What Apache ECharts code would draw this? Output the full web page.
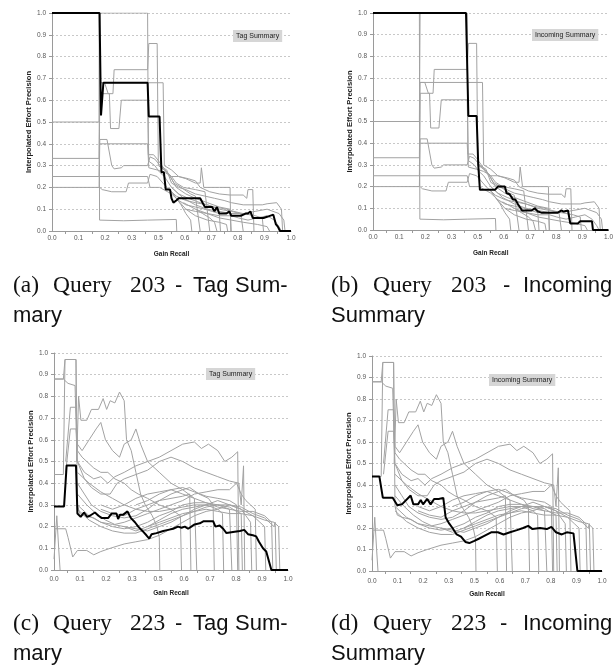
<!DOCTYPE html>
<html><head><meta charset="utf-8">
<script src="https://cdn.jsdelivr.net/npm/echarts@6/dist/echarts.min.js"></script>
<style>html,body{margin:0;padding:0;background:#fff}#c{width:616px;height:667px}</style>
</head><body><div id="c"></div>
<script>
// x tick labels as printed on every panel (0.4 is absent in the original)
const xTickLabels = ["0.0","0.1","0.2","0.3","0.5","0.6","0.7","0.8","0.9","1.0"];
const yTickStep = 0.1;
// x values below are the fraction of the axis length (0 = first tick, 1 = last tick)

// ---- Query 203 : grey per-user curves (shared by panels a and b)
const q203Gray = [
  [[0,1],[0.197,1],[0.199,0.05],[0.3,0.047],[0.4,0.05],[0.52,0.053],[0.522,0]],
  [[0,0.5],[0.197,0.5],[0.2,1],[0.4,1],[0.403,0.35],[0.425,0.35],[0.44,0.33],[0.46,0.3],[0.48,0.27],[0.5,0.24],[0.52,0.2],[0.56,0.17],[0.6,0.15],[0.65,0.13],[0.7,0.11],[0.745,0.1],[0.75,0]],
  [[0,0.333],[0.197,0.333],[0.2,0.68],[0.22,0.68],[0.235,0.63],[0.255,0.63],[0.26,0.74],[0.4,0.74],[0.405,0.86],[0.44,0.86],[0.445,0.3],[0.47,0.28],[0.5,0.25],[0.52,0.22],[0.55,0.2],[0.6,0.19],[0.64,0.18],[0.66,0]],
  [[0,0.25],[0.197,0.25],[0.2,0.63],[0.24,0.63],[0.245,0.47],[0.28,0.47],[0.29,0.6],[0.4,0.6],[0.405,0.32],[0.43,0.3],[0.45,0.27],[0.47,0.25],[0.5,0.2],[0.53,0.17],[0.57,0.15],[0.62,0.13],[0.68,0.11],[0.73,0.1],[0.76,0.09],[0.8,0.08],[0.85,0.07],[0.88,0.06],[0.885,0]],
  [[0,0.2],[0.197,0.2],[0.2,0.42],[0.23,0.42],[0.25,0.3],[0.26,0.285],[0.29,0.29],[0.3,0.3],[0.4,0.3],[0.41,0.34],[0.43,0.33],[0.46,0.29],[0.49,0.26],[0.51,0.22],[0.54,0.2],[0.58,0.17],[0.6,0.16],[0.62,0]],
  [[0.2,0.4],[0.4,0.4],[0.405,0.29],[0.44,0.28],[0.47,0.27],[0.5,0.25],[0.53,0.25],[0.56,0.24],[0.6,0.22],[0.62,0.22],[0.625,0.29],[0.635,0.2],[0.7,0.2],[0.745,0.2],[0.748,0]],
  [[0.2,0.2],[0.21,0.19],[0.25,0.18],[0.31,0.18],[0.32,0.22],[0.4,0.22],[0.41,0.26],[0.44,0.25],[0.48,0.2],[0.52,0.16],[0.56,0.14],[0.6,0.13],[0.65,0.12],[0.7,0.1],[0.75,0.09],[0.79,0.08],[0.8,0]],
  [[0.2,0.25],[0.4,0.25],[0.41,0.2],[0.45,0.2],[0.5,0.17],[0.53,0.14],[0.56,0.12],[0.6,0.11],[0.64,0.1],[0.67,0.09],[0.7,0.08],[0.705,0]],
  [[0.2,0.68],[0.465,0.68],[0.47,0.3],[0.5,0.28],[0.53,0.25],[0.57,0.24],[0.6,0.23],[0.62,0.2],[0.66,0.18],[0.7,0.17],[0.745,0.165],[0.8,0.165],[0.815,0.15],[0.82,0.19],[0.84,0.19],[0.845,0]],
  [[0.45,0.3],[0.48,0.28],[0.5,0.22],[0.53,0.2],[0.56,0.19],[0.6,0.17],[0.64,0.16],[0.68,0.15],[0.72,0.14],[0.75,0.13],[0.8,0.12],[0.88,0.12],[0.9,0.125],[0.94,0.13],[0.96,0.1],[0.965,0]],
  [[0.5,0.2],[0.55,0.15],[0.6,0.12],[0.65,0.1],[0.7,0.09],[0.75,0.08],[0.8,0.08],[0.85,0.09],[0.9,0.1],[0.95,0.08],[0.97,0.05],[0.975,0]],
  [[0.52,0.15],[0.56,0.1],[0.6,0.09],[0.65,0.08],[0.7,0.07],[0.75,0.07],[0.78,0.06],[0.82,0.05],[0.86,0.06],[0.9,0.07],[0.93,0.05],[0.95,0.02],[0.96,0]],
  [[0.5,0.18],[0.54,0.12],[0.56,0.08],[0.58,0.05],[0.585,0]],
  [[0.55,0.13],[0.6,0.1],[0.63,0.08],[0.66,0.06],[0.68,0.04],[0.69,0]],
  [[0.56,0.1],[0.6,0.07],[0.65,0.05],[0.7,0.04],[0.73,0.03],[0.735,0]],
  [[0.6,0.1],[0.7,0.06],[0.8,0.04],[0.86,0.03],[0.9,0.02],[0.91,0]]
];
// ---- Query 203 : averaged curves (black)
const q203Tag = [[0,1],[0.199,1],[0.205,0.53],[0.215,0.68],[0.4,0.68],[0.405,0.525],[0.45,0.525],[0.458,0.27],[0.468,0.27],[0.476,0.19],[0.494,0.19],[0.5,0.15],[0.508,0.13],[0.52,0.14],[0.53,0.15],[0.62,0.15],[0.63,0.13],[0.64,0.11],[0.67,0.11],[0.675,0.1],[0.68,0.09],[0.69,0.11],[0.7,0.08],[0.73,0.08],[0.742,0.09],[0.75,0.07],[0.79,0.07],[0.81,0.08],[0.82,0.08],[0.83,0.09],[0.84,0.06],[0.885,0.06],[0.9,0.065],[0.926,0.075],[0.937,0.03],[0.945,0.02],[0.954,0],[1,0]];
const q203Incoming = [[0,1],[0.395,1],[0.405,0.525],[0.44,0.525],[0.447,0.3],[0.454,0.185],[0.518,0.185],[0.53,0.2],[0.56,0.2],[0.567,0.17],[0.58,0.165],[0.595,0.14],[0.605,0.14],[0.615,0.12],[0.633,0.09],[0.673,0.09],[0.687,0.1],[0.7,0.085],[0.715,0.08],[0.757,0.08],[0.785,0.08],[0.8,0.09],[0.81,0.085],[0.828,0.09],[0.838,0.03],[0.87,0.03],[0.88,0.04],[0.93,0.04],[0.934,0],[1,0]];

// ---- Query 223 : grey per-user curves (shared by panels c and d)
const q223Gray = [
  [[0,0.88],[0.04,0.88],[0.047,0.97],[0.094,0.97],[0.1,0.3],[0.11,0.26],[0.13,0.25],[0.17,0.24],[0.2,0.22],[0.25,0.21],[0.3,0.2],[0.35,0.19],[0.4,0.18],[0.45,0.2],[0.5,0.22],[0.55,0.25],[0.6,0.27],[0.65,0.29],[0.7,0.3],[0.75,0.3],[0.8,0.28],[0.85,0.25],[0.88,0.22],[0.9,0.2],[0.905,0]],
  [[0,0.44],[0.04,0.44],[0.047,0.97],[0.094,0.97],[0.097,0.5],[0.105,0.8],[0.115,0.69],[0.14,0.69],[0.16,0.74],[0.19,0.74],[0.21,0.79],[0.225,0.74],[0.24,0.78],[0.26,0.77],[0.28,0.82],[0.3,0.78],[0.31,0.6],[0.33,0.55],[0.35,0.45],[0.37,0.35],[0.39,0.3],[0.42,0.25],[0.44,0.2],[0.45,0.15],[0.452,0]],
  [[0,0.88],[0.04,0.88],[0.06,0.86],[0.09,0.85],[0.095,0.65],[0.1,0.55],[0.12,0.52],[0.14,0.5],[0.17,0.47],[0.2,0.45],[0.23,0.45],[0.26,0.42],[0.3,0.4],[0.33,0.37],[0.36,0.35],[0.4,0.33],[0.45,0.3],[0.5,0.28],[0.54,0.25],[0.545,0]],
  [[0.05,0.5],[0.07,0.75],[0.094,0.75],[0.1,0.58],[0.12,0.55],[0.15,0.6],[0.18,0.65],[0.2,0.68],[0.22,0.6],[0.25,0.55],[0.28,0.52],[0.3,0.58],[0.33,0.6],[0.35,0.65],[0.37,0.58],[0.4,0.5],[0.45,0.45],[0.5,0.4],[0.55,0.37],[0.6,0.33],[0.61,0]],
  [[0.05,0.45],[0.07,0.65],[0.094,0.65],[0.1,0.5],[0.13,0.45],[0.17,0.42],[0.2,0.43],[0.23,0.4],[0.26,0.43],[0.3,0.45],[0.35,0.48],[0.4,0.5],[0.45,0.52],[0.5,0.55],[0.55,0.58],[0.6,0.59],[0.63,0.56],[0.66,0.58],[0.7,0.55],[0.73,0.5],[0.76,0.52],[0.785,0.545],[0.79,0]],
  [[0.1,0.5],[0.13,0.42],[0.16,0.38],[0.2,0.35],[0.24,0.35],[0.27,0.4],[0.3,0.42],[0.35,0.44],[0.4,0.46],[0.45,0.5],[0.5,0.52],[0.55,0.5],[0.6,0.47],[0.65,0.45],[0.7,0.43],[0.75,0.41],[0.79,0.4],[0.8,0.3],[0.81,0.48],[0.815,0]],
  [[0.1,0.4],[0.13,0.35],[0.16,0.3],[0.2,0.27],[0.25,0.25],[0.3,0.24],[0.35,0.25],[0.4,0.28],[0.45,0.32],[0.5,0.35],[0.55,0.37],[0.58,0.38],[0.62,0.35],[0.66,0.33],[0.68,0.3],[0.685,0]],
  [[0.1,0.35],[0.14,0.3],[0.18,0.26],[0.22,0.23],[0.26,0.21],[0.3,0.22],[0.35,0.24],[0.4,0.26],[0.45,0.28],[0.5,0.3],[0.55,0.32],[0.6,0.35],[0.65,0.36],[0.7,0.37],[0.75,0.37],[0.78,0.4],[0.8,0.35],[0.82,0.32],[0.84,0.3],[0.86,0.28],[0.865,0]],
  [[0,0.05],[0.012,0.25],[0.02,0.1],[0.026,0]],
  [[0,0.19],[0.05,0.19],[0.06,0.15],[0.08,0.06],[0.1,0.09],[0.14,0.09],[0.17,0.07],[0.2,0.085],[0.24,0.1],[0.3,0.12],[0.35,0.13],[0.4,0.14],[0.45,0.16],[0.5,0.19],[0.55,0.22],[0.6,0.25],[0.65,0.27],[0.7,0.28],[0.75,0.3],[0.8,0.29],[0.85,0.26],[0.9,0.24],[0.94,0.2],[0.945,0.22],[0.95,0]],
  [[0.1,0.3],[0.15,0.25],[0.2,0.22],[0.25,0.2],[0.3,0.19],[0.35,0.2],[0.4,0.22],[0.45,0.25],[0.5,0.27],[0.55,0.3],[0.6,0.31],[0.65,0.31],[0.7,0.3],[0.75,0.28],[0.8,0.27],[0.85,0.27],[0.9,0.25],[0.93,0.22],[0.935,0]],
  [[0.1,0.28],[0.15,0.23],[0.2,0.2],[0.25,0.18],[0.3,0.17],[0.35,0.17],[0.4,0.19],[0.45,0.21],[0.5,0.23],[0.55,0.25],[0.6,0.28],[0.65,0.3],[0.7,0.32],[0.75,0.3],[0.8,0.28],[0.82,0.25],[0.84,0.22],[0.845,0]],
  [[0.2,0.3],[0.25,0.28],[0.3,0.3],[0.35,0.33],[0.4,0.35],[0.45,0.36],[0.5,0.37],[0.55,0.35],[0.6,0.33],[0.65,0.31],[0.7,0.29],[0.75,0.28],[0.76,0]],
  [[0.1,0.45],[0.15,0.4],[0.2,0.36],[0.25,0.33],[0.3,0.3],[0.35,0.28],[0.4,0.27],[0.45,0.27],[0.5,0.28],[0.55,0.29],[0.6,0.3],[0.65,0.3],[0.7,0.28],[0.72,0.26],[0.725,0]],
  [[0.4,0.2],[0.45,0.22],[0.5,0.24],[0.55,0.26],[0.6,0.27],[0.65,0.28],[0.7,0.27],[0.75,0.26],[0.8,0.26],[0.85,0.25],[0.9,0.23],[0.94,0.22],[0.96,0.2],[0.965,0]],
  [[0.3,0.2],[0.35,0.18],[0.4,0.2],[0.45,0.23],[0.5,0.26],[0.55,0.28],[0.6,0.29],[0.65,0.3],[0.7,0.3],[0.75,0.29],[0.78,0.27],[0.8,0.26],[0.805,0]],
  [[0.2,0.28],[0.25,0.26],[0.3,0.25],[0.35,0.28],[0.4,0.3],[0.45,0.32],[0.5,0.33],[0.55,0.34],[0.58,0.35],[0.585,0]],
  [[0.35,0.3],[0.4,0.32],[0.45,0.35],[0.5,0.37],[0.55,0.38],[0.6,0.36],[0.65,0.34],[0.7,0.33],[0.75,0.32],[0.78,0.3],[0.785,0]]
];
// ---- Query 223 : averaged curves (black)
const q223Tag = [[0,0.293],[0.043,0.293],[0.054,0.482],[0.094,0.482],[0.1,0.26],[0.114,0.245],[0.128,0.265],[0.142,0.245],[0.153,0.25],[0.175,0.265],[0.19,0.25],[0.203,0.24],[0.232,0.24],[0.246,0.26],[0.267,0.26],[0.274,0.235],[0.282,0.255],[0.296,0.255],[0.314,0.27],[0.328,0.24],[0.346,0.22],[0.36,0.2],[0.378,0.18],[0.395,0.16],[0.407,0.145],[0.417,0.165],[0.438,0.17],[0.467,0.18],[0.488,0.185],[0.509,0.19],[0.53,0.2],[0.545,0.195],[0.559,0.2],[0.573,0.19],[0.587,0.2],[0.601,0.21],[0.623,0.215],[0.64,0.225],[0.68,0.225],[0.69,0.2],[0.708,0.205],[0.723,0.19],[0.737,0.17],[0.765,0.175],[0.794,0.18],[0.813,0.185],[0.829,0.165],[0.85,0.16],[0.864,0.155],[0.876,0.13],[0.893,0.1],[0.907,0.085],[0.929,0],[1,0]];
const q223Incoming = [[0,0.44],[0.032,0.44],[0.047,0.341],[0.09,0.341],[0.11,0.306],[0.13,0.31],[0.168,0.351],[0.18,0.31],[0.2,0.31],[0.212,0.33],[0.222,0.31],[0.24,0.335],[0.255,0.31],[0.27,0.335],[0.29,0.335],[0.31,0.34],[0.32,0.25],[0.336,0.22],[0.35,0.2],[0.368,0.17],[0.387,0.16],[0.406,0.135],[0.423,0.13],[0.445,0.14],[0.464,0.15],[0.482,0.16],[0.518,0.18],[0.547,0.18],[0.572,0.17],[0.6,0.18],[0.63,0.19],[0.657,0.2],[0.679,0.21],[0.698,0.195],[0.73,0.2],[0.76,0.195],[0.78,0.205],[0.8,0.18],[0.825,0.17],[0.847,0.18],[0.876,0.175],[0.893,0],[1,0]];

const X_SPAN = xTickLabels.length - 1;
const panels = [
  {gray:q203Gray, mean:q203Tag,      box:"Tag Summary",      grid:{left:52, top:13, width:239, height:218}, xLabelMargin:4, boxPos:{left:233, top:30}},
  {gray:q203Gray, mean:q203Incoming, box:"Incoming Summary", grid:{left:373, top:13, width:236, height:217}, xLabelMargin:4, boxPos:{left:532, top:29}},
  {gray:q223Gray, mean:q223Tag,      box:"Tag Summary",      grid:{left:54, top:353, width:234, height:217}, xLabelMargin:6, boxPos:{left:206, top:368}},
  {gray:q223Gray, mean:q223Incoming, box:"Incoming Summary", grid:{left:372, top:356, width:230, height:215}, xLabelMargin:7, boxPos:{left:489, top:374}}
];

const FONT = '"Liberation Sans", Arial, sans-serif';
const grids = [], xAxes = [], yAxes = [], series = [], titles = [];
panels.forEach((p, i) => {
  grids.push(Object.assign({containLabel:false}, p.grid));
  xAxes.push({
    type:'value', gridIndex:i, min:0, max:X_SPAN, interval:1,
    name:'Gain Recall', nameLocation:'middle', nameGap:20,
    nameTextStyle:{fontSize:6.5, fontWeight:'bold', color:'#222', fontFamily:FONT},
    axisLine:{show:true, onZero:false, lineStyle:{color:'#9a9a9a', width:1}},
    axisTick:{show:false},
    minorTick:{show:true, splitNumber:2, length:3, lineStyle:{color:'#9a9a9a'}},
    axisLabel:{fontSize:6.5, color:'#555', margin:p.xLabelMargin, fontFamily:FONT,
      formatter:v => xTickLabels[Math.round(v)] || ''},
    splitLine:{show:false}
  });
  yAxes.push({
    type:'value', gridIndex:i, min:0, max:1, interval:yTickStep,
    name:'Interpolated Effort Precision', nameLocation:'middle', nameGap:18, nameRotate:90,
    nameTextStyle:{fontSize:7.6, fontWeight:'bold', color:'#222', fontFamily:FONT},
    axisLine:{show:true, lineStyle:{color:'#9a9a9a', width:1}},
    axisTick:{show:true, length:3, lineStyle:{color:'#9a9a9a'}},
    axisLabel:{fontSize:6.5, color:'#555', margin:6, fontFamily:FONT, formatter:v => v.toFixed(1)},
    splitLine:{show:true, lineStyle:{color:'#c8c8c8', type:[2,2], width:1}}
  });
  p.gray.forEach(line => series.push({
    type:'line', xAxisIndex:i, yAxisIndex:i, showSymbol:false, silent:true, z:2,
    lineStyle:{color:'#a2a2a2', width:1}, data:line.map(pt => [pt[0]*X_SPAN, pt[1]])
  }));
  series.push({
    type:'line', xAxisIndex:i, yAxisIndex:i, showSymbol:false, silent:true, z:5,
    lineStyle:{color:'#000', width:2}, data:p.mean.map(pt => [pt[0]*X_SPAN, pt[1]])
  });
  titles.push({text:p.box, left:p.boxPos.left, top:p.boxPos.top, padding:[2,3],
    backgroundColor:'#d6d6d6', textStyle:{fontSize:7, fontWeight:'normal', color:'#222', fontFamily:FONT, lineHeight:8}});
});

// captions: words placed as in the justified LaTeX sub-captions
const SERIF = '"Liberation Serif", "DejaVu Serif", serif';
const SANS = '"Liberation Sans", "DejaVu Sans", sans-serif';
const captionWords = [
  // [text, x, baselineY, family]
  ['(a)', 13, 294, SERIF], ['Query', 53, 294, SERIF], ['203', 130, 294, SERIF], ['-', 175, 294, SANS], ['Tag', 193, 294, SANS], ['Sum-', 235, 294, SANS], ['mary', 13, 324, SANS],
  ['(b)', 331, 294, SERIF], ['Query', 373, 294, SERIF], ['203', 451, 294, SERIF], ['-', 503, 294, SANS], ['Incoming', 523, 294, SANS], ['Summary', 331, 324, SANS],
  ['(c)', 13, 632, SERIF], ['Query', 53, 632, SERIF], ['223', 130, 632, SERIF], ['-', 175, 632, SANS], ['Tag', 193, 632, SANS], ['Sum-', 235, 632, SANS], ['mary', 13, 662, SANS],
  ['(d)', 331, 632, SERIF], ['Query', 373, 632, SERIF], ['223', 451, 632, SERIF], ['-', 500, 632, SANS], ['Incoming', 523, 632, SANS], ['Summary', 331, 662, SANS]
];
const graphic = captionWords.map(w => ({
  type:'text', x:w[1], y:w[2] - 8,
  style:{text:w[0], fontSize:w[3] === SERIF ? 23.5 : 22, fontFamily:w[3], fill:'#111', verticalAlign:'middle', align:'left'}
}));

const chart = echarts.init(document.getElementById('c'), null, {renderer:'canvas'});
chart.setOption({
  animation:false, backgroundColor:'#fff',
  title:titles, grid:grids, xAxis:xAxes, yAxis:yAxes, series:series, graphic:graphic
});
</script></body></html>
